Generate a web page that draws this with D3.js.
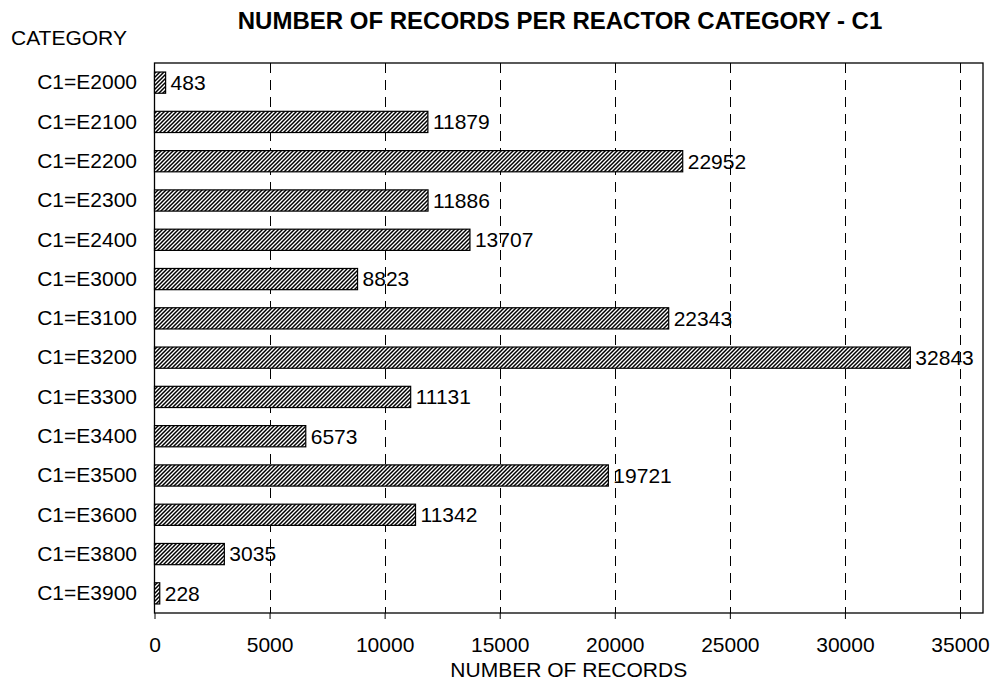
<!DOCTYPE html>
<html><head><meta charset="utf-8">
<script src="https://cdn.jsdelivr.net/npm/d3@7"></script>
<style>body{margin:0;background:#fff}svg{display:block}text{font-family:"Liberation Sans",Arial,sans-serif;fill:#000}</style>
</head><body>
<script>
const categories = ["C1=E2000","C1=E2100","C1=E2200","C1=E2300","C1=E2400","C1=E3000","C1=E3100","C1=E3200","C1=E3300","C1=E3400","C1=E3500","C1=E3600","C1=E3800","C1=E3900"];
const records = [483,11879,22952,11886,13707,8823,22343,32843,11131,6573,19721,11342,3035,228];
const xTicks = [0,5000,10000,15000,20000,25000,30000,35000];
const title = "NUMBER OF RECORDS PER REACTOR CATEGORY - C1";
const xTitle = "NUMBER OF RECORDS";
const yTitle = "CATEGORY";

const W = 992, H = 688;
const m = {left:154.5, right:983, top:63, bottom:613};
const FS = "21px";
const svg = d3.select("body").append("svg").attr("width",W).attr("height",H);

const defs = svg.append("defs");
const pat = defs.append("pattern").attr("id","hatch").attr("patternUnits","userSpaceOnUse")
  .attr("width",4).attr("height",4);
pat.append("rect").attr("width",4).attr("height",4).attr("fill","#fff");
pat.append("path").attr("d","M-1,1 l2,-2 M0,4 l4,-4 M3,5 l2,-2").attr("stroke","#000").attr("stroke-width",1.5);

const x = d3.scaleLinear().domain([0,36000]).range([m.left,m.right]);
const y = d3.scaleBand().domain(categories).range([m.top,m.bottom]).paddingInner(0.46).paddingOuter(0.23);

// grid
svg.append("g").selectAll("line").data(xTicks.filter(d=>d>0)).join("line")
  .attr("x1",d=>Math.round(x(d))+0.5).attr("x2",d=>Math.round(x(d))+0.5)
  .attr("y1",m.top).attr("y2",m.bottom)
  .attr("stroke","#000").attr("stroke-width",1).attr("stroke-dasharray","10,7");

// frame
svg.append("rect").attr("x",m.left).attr("y",m.top).attr("width",m.right-m.left).attr("height",m.bottom-m.top)
  .attr("fill","none").attr("stroke","#000").attr("stroke-width",1.3);

// x axis
const xa = svg.append("g").attr("transform",`translate(0,${m.bottom})`)
  .call(d3.axisBottom(x).tickValues(xTicks).tickFormat(d3.format("d")).tickSize(6).tickPadding(18));
xa.select(".domain").remove();
xa.selectAll("line").attr("stroke","#000");
xa.selectAll("text").style("font-size",FS).style("font-family","Liberation Sans, Arial, sans-serif");

// y axis labels
const ya = svg.append("g").attr("transform",`translate(${m.left},0)`)
  .call(d3.axisLeft(y).tickSize(0).tickPadding(17.5));
ya.select(".domain").remove();
ya.selectAll("text").style("font-size",FS).style("font-family","Liberation Sans, Arial, sans-serif");

// bars
svg.append("g").selectAll("rect").data(records).join("rect")
  .attr("x",x(0)).attr("y",(d,i)=>y(categories[i]))
  .attr("width",d=>x(d)-x(0)).attr("height",y.bandwidth())
  .attr("fill","url(#hatch)").attr("stroke","#000").attr("stroke-width",1.2);

svg.append("g").selectAll("text").data(records).join("text")
  .attr("x",d=>x(d)+5).attr("y",(d,i)=>y(categories[i])+y.bandwidth()/2)
  .attr("dy","0.35em").style("font-size",FS).text(d=>d);

svg.append("text").attr("x",560).attr("y",29).attr("text-anchor","middle")
  .style("font-size","24px").style("font-weight","bold").text(title);
svg.append("text").attr("x",11).attr("y",45).style("font-size",FS).text(yTitle);
svg.append("text").attr("x",(m.left+m.right)/2).attr("y",677).attr("text-anchor","middle")
  .style("font-size",FS).text(xTitle);
</script>
</body></html>
